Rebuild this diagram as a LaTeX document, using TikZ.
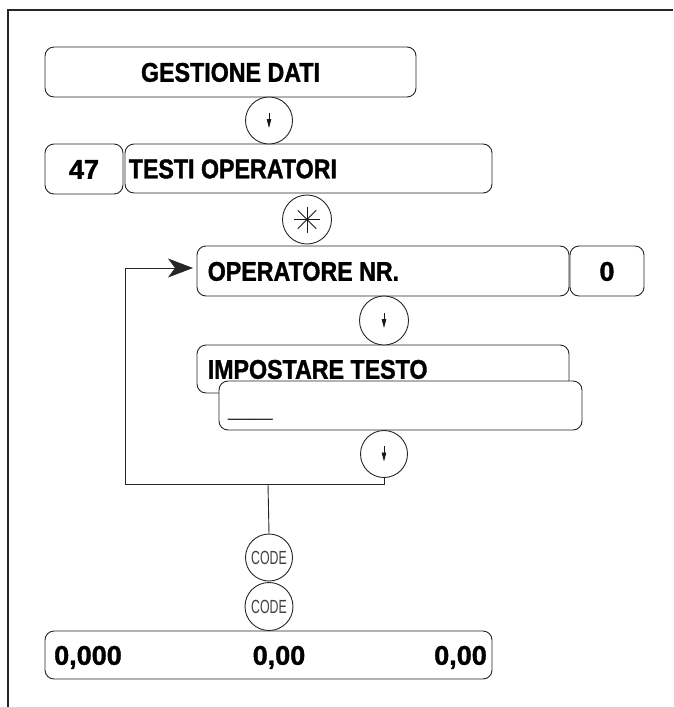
\documentclass[tikz,border=0pt]{standalone}
\usepackage{fontspec}
\setmainfont{Liberation Sans}
\newfontfamily\cnfont[FakeStretch=0.86, FakeBold=1.3]{Liberation Sans}
\newfontfamily\numfont[FakeBold=1.3]{Liberation Sans}
\newfontfamily\codefont[FakeStretch=0.65]{Liberation Sans}
\usetikzlibrary{arrows.meta}
\begin{document}
\begin{tikzpicture}[x=1pt,y=-1pt,
  line/.style={draw=black!85, line width=0.9pt},
  box/.style={draw=black!85, line width=0.9pt, rounded corners=9pt, inner sep=0pt, fill=white},
  word/.style={font=\cnfont\bfseries\fontsize{27}{30}\selectfont, inner sep=0pt, text height=19.5pt, text depth=0pt, text=black},
  num/.style={font=\numfont\bfseries\fontsize{27}{30}\selectfont, inner sep=0pt, text height=19.5pt, text depth=0pt, text=black},
  key/.style={circle, draw=black!85, line width=0.9pt, inner sep=0pt, minimum size=47pt, fill=white},
  downkey/.style={key, path picture={\draw[line width=0.8pt, black!90, -{Triangle[length=9pt,width=4.5pt]}]
      ([yshift=8pt]path picture bounding box.center) -- ([yshift=-7.5pt]path picture bounding box.center);}},
  codekey/.style={key, font=\codefont\fontsize{19}{20}\selectfont, text=black!75, text height=13.6pt, text depth=0pt}
]
\useasboundingbox (0,0) rectangle (673,707);
% frame
\draw[line width=1.2pt, black!85] (8,707) -- (8,10) -- (673,10);

% boxes
\node[box, minimum width=371pt, minimum height=50pt] (gest) at (230.5,72) {};
\node[word] (tGest) at (gest.center) {GESTIONE DATI};

\node[box, minimum width=78pt, minimum height=50pt] (n47) at (84,169) {};
\node[num] (t47) at (n47.center) {47};
\node[box, minimum width=367pt, minimum height=49pt] (testi) at (308.5,168.5) {};
\node[word, anchor=west] (tTesti) at ([xshift=4pt]testi.west) {TESTI OPERATORI};

\node[box, minimum width=372pt, minimum height=50pt] (oper) at (383,271) {};
\node[word, anchor=west] (tOper) at ([xshift=11pt]oper.west) {OPERATORE NR.};
\node[box, minimum width=74pt, minimum height=50pt] (zero) at (607,271) {};
\node[num] (tZero) at (zero.center) {0};

\node[box, minimum width=372pt, minimum height=48pt] (imp) at (383,369) {};
\node[word, anchor=west] (tImp) at ([xshift=11pt]imp.west) {IMPOSTARE TESTO};
\node[box, minimum width=363pt, minimum height=49pt] (und) at (400.5,405.5) {};
\node[font=\fontsize{20}{22}\selectfont, inner sep=0pt, anchor=base west, text=black!85] (tUnd) at (228,416) {\_\_\_\_};

\node[box, minimum width=447pt, minimum height=48pt] (tot) at (268.5,655) {};
\node[num, anchor=west] (tA) at (54,655) {0,000};
\node[num] (tB) at (279,655) {0,00};
\node[num, anchor=east] (tC) at (487,655) {0,00};

% keys
\node[downkey] (c1) at (269,120.5) {};
\node[key, minimum size=49pt] (ast) at (307,219.5) {};
\foreach \a in {0,45,90,135}
  \draw[line width=0.9pt, black!90] ([shift={(\a:13pt)}]ast.center) -- ([shift={(\a+180:13pt)}]ast.center);
\node[downkey, minimum size=49pt] (c3) at (384,320.5) {};
\node[downkey] (c4) at (384,454) {};
\node[codekey] (code1) at (269,557.5) {CODE};
\node[codekey, minimum size=48pt] (code2) at (269,606.5) {CODE};

% loop connector
\coordinate (j1) at (384,484);
\coordinate (j2) at (125,484);
\coordinate (j3) at (125,268);
\coordinate (tip) at (193,268);
\coordinate (j4) at (268,484);
\draw[line, -{Stealth[length=25pt,width=19pt,inset=7pt]}] (c4.south) -- (j1) -- (j2) -- (j3) -- (tip);
\draw[line] (j4) -- (code1.north);
\end{tikzpicture}
\end{document}
